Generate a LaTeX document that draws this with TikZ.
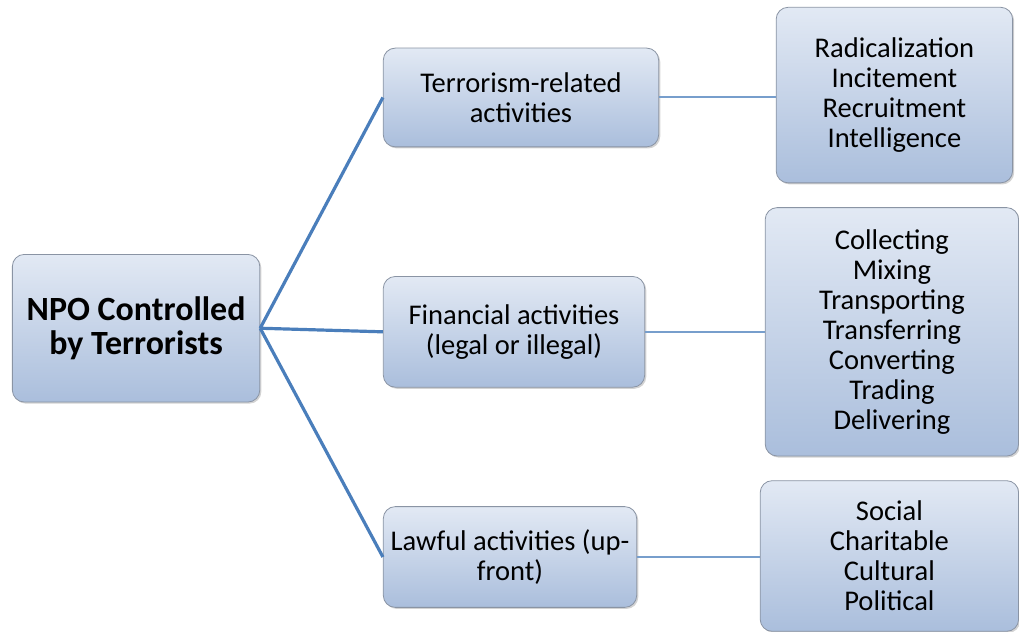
\documentclass[tikz,border=0pt]{standalone}
\usepackage{fontspec}
\setmainfont{Carlito}
\usepackage{tikz}
\usepackage{xcolor}
\usetikzlibrary{positioning,shadows}
\definecolor{boxtop}{RGB}{226,233,244}
\definecolor{boxbot}{RGB}{170,190,220}
\definecolor{boxline}{RGB}{138,148,164}
\definecolor{linkblue}{RGB}{74,126,187}

\begin{document}
\begin{tikzpicture}[
box/.style={draw=boxline,rounded corners=6pt,align=center,top color=boxtop,bottom color=boxbot,inner sep=2pt,
  font=\fontsize{14.3}{15}\selectfont,drop shadow={opacity=0.35,shadow xshift=0.8pt,shadow yshift=-0.8pt}},
link/.style={draw=linkblue,line width=1.6pt},
sublink/.style={draw=linkblue!75,line width=1pt}
]
\node[box,minimum width=124pt,minimum height=74pt,font=\fontsize{17}{17.5}\selectfont\bfseries] (npo) {NPO Controlled\\by Terrorists};
\node[box,minimum width=138pt,minimum height=49.5pt,above right=53.5pt and 61.5pt of npo] (terr) {Terrorism-related\\activities};
\node[box,minimum width=131pt,minimum height=55.5pt,right=61.5pt of npo,yshift=-1.8pt] (fin) {Financial activities\\(legal or illegal)};
\node[box,minimum width=127pt,minimum height=50.5pt,below right=52pt and 61.5pt of npo] (lawful) {Lawful activities (up-\\front)};
\node[box,minimum width=118.5pt,minimum height=88pt,right=58.5pt of terr,yshift=1.2pt] (radical) {Radicalization\\Incitement\\Recruitment\\Intelligence};
\node[box,minimum width=127pt,minimum height=124.5pt,right=60pt of fin] (moving) {Collecting\\Mixing\\Transporting\\Transferring\\Converting\\Trading\\Delivering};
\node[box,minimum width=129.5pt,minimum height=75.5pt,right=61.5pt of lawful,yshift=0.5pt] (social) {Social\\Charitable\\Cultural\\Political};
\draw[link] (npo.east) -- (terr.west);
\draw[link] (npo.east) -- (fin.west);
\draw[link] (npo.east) -- (lawful.west);
\draw[sublink] (terr.east) -- (terr.east -| radical.west);
\draw[sublink] (fin.east) -- (fin.east -| moving.west);
\draw[sublink] (lawful.east) -- (lawful.east -| social.west);
\useasboundingbox ([xshift=-6pt,yshift=164.5pt]npo.west) rectangle ++(509.5pt,-316.5pt);
\end{tikzpicture}
\end{document}
